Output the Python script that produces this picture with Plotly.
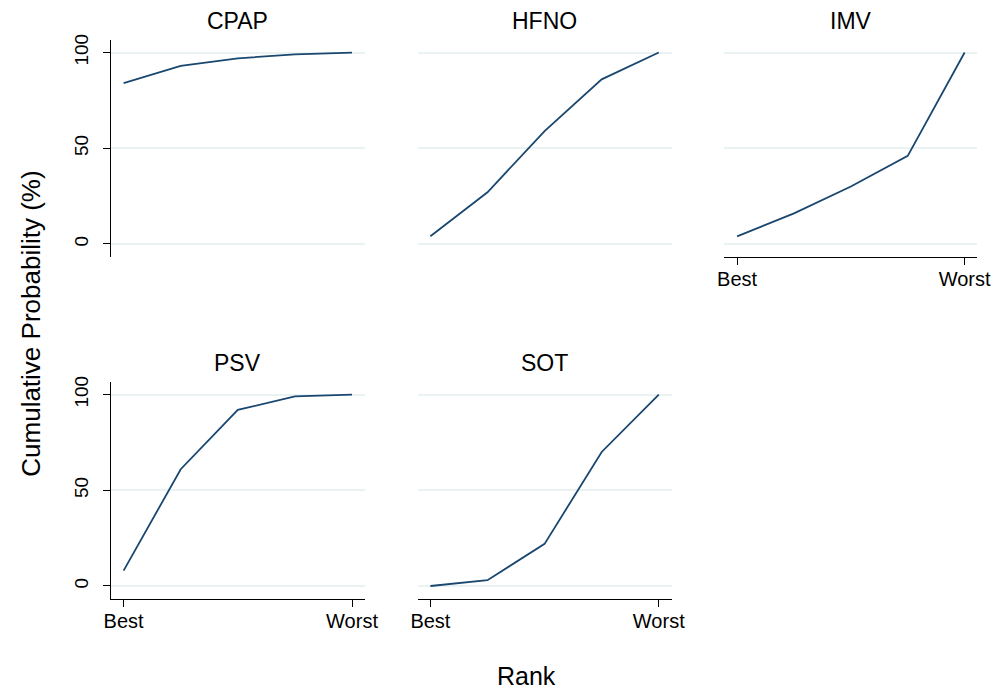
import plotly.graph_objects as go

W, H = 1005, 693

ranks = [1, 2, 3, 4, 5]
rank_tick_vals = [1, 5]
rank_tick_text = ["Best", "Worst"]
prob_tick_vals = [0, 50, 100]

treatments = ["CPAP", "HFNO", "IMV", "PSV", "SOT"]
cpap = [84, 93, 97, 99, 100]
hfno = [4, 27, 59, 86, 100]
imv = [4, 16, 30, 46, 100]
psv = [8, 61, 92, 99, 100]
sot = [0, 3, 22, 70, 100]
series = [cpap, hfno, imv, psv, sot]

# panel boxes in pixels: (left, right, top, bottom)
boxes = [(106, 365, 34, 253), (419, 678, 34, 253), (732, 990, 34, 253),
         (106, 365, 379, 598), (419, 678, 379, 598)]
show_y = [True, False, False, True, False]
show_x = [False, False, True, True, True]

FONT = "Liberation Sans, Arial, Helvetica, sans-serif"
LINE = "#1a476f"
GRID = "#eaf2f3"

fig = go.Figure()
layout = dict(
    width=W, height=H, margin=dict(l=0, r=0, t=0, b=0),
    paper_bgcolor="white", plot_bgcolor="white", showlegend=False,
    font=dict(family=FONT, color="black"),
)
annotations = []
for i, (name, vals) in enumerate(zip(treatments, series)):
    n = i + 1
    xa = "x" if n == 1 else f"x{n}"
    ya = "y" if n == 1 else f"y{n}"
    fig.add_trace(go.Scatter(x=ranks, y=vals, mode="lines", xaxis=xa, yaxis=ya,
                             line=dict(color=LINE, width=1.8), hoverinfo="skip"))
    l, r, t, b = boxes[i]
    xd = [l / W, r / W]
    yd = [1 - b / H, 1 - t / H]
    layout[f"xaxis{'' if n == 1 else n}"] = dict(
        domain=xd, range=[0.777, 5.223], anchor=ya,
        showgrid=False, zeroline=False,
        showline=show_x[i], linecolor="black", linewidth=1,
        ticks="outside" if show_x[i] else "", ticklen=7, tickcolor="black", tickwidth=1,
        tickvals=rank_tick_vals, ticktext=rank_tick_text,
        showticklabels=show_x[i], tickfont=dict(size=20, family=FONT),
        ticklabelstandoff=-3,
    )
    layout[f"yaxis{'' if n == 1 else n}"] = dict(
        domain=yd, range=[-6.7, 106.7], anchor=xa,
        showgrid=True, gridcolor=GRID, gridwidth=1.5, zeroline=False,
        showline=show_y[i], linecolor="black", linewidth=1,
        ticks="outside" if show_y[i] else "", ticklen=7, tickcolor="black", tickwidth=1,
        tickvals=prob_tick_vals, showticklabels=show_y[i],
        tickangle=-90, tickfont=dict(size=19, family=FONT),
        ticklabelstandoff=7,
    )
    annotations.append(dict(
        text=name, x=(l + r) / 2 / W, y=1 - (t - 19) / H, xref="paper", yref="paper",
        xanchor="center", yanchor="middle", showarrow=False,
        font=dict(size=23, family=FONT, color="black")))

annotations.append(dict(text="Rank", x=530 / W, y=1 - 676 / H, xref="paper", yref="paper",
                        xanchor="center", yanchor="middle", showarrow=False,
                        font=dict(size=25, family=FONT, color="black")))
annotations.append(dict(text="Cumulative Probability (%)", x=25 / W, y=1 - 321 / H,
                        xref="paper", yref="paper", textangle=-90,
                        xanchor="center", yanchor="middle", showarrow=False,
                        font=dict(size=26, family=FONT, color="black")))
layout["annotations"] = annotations
fig.update_layout(**layout)
fig.write_html("out.html")
